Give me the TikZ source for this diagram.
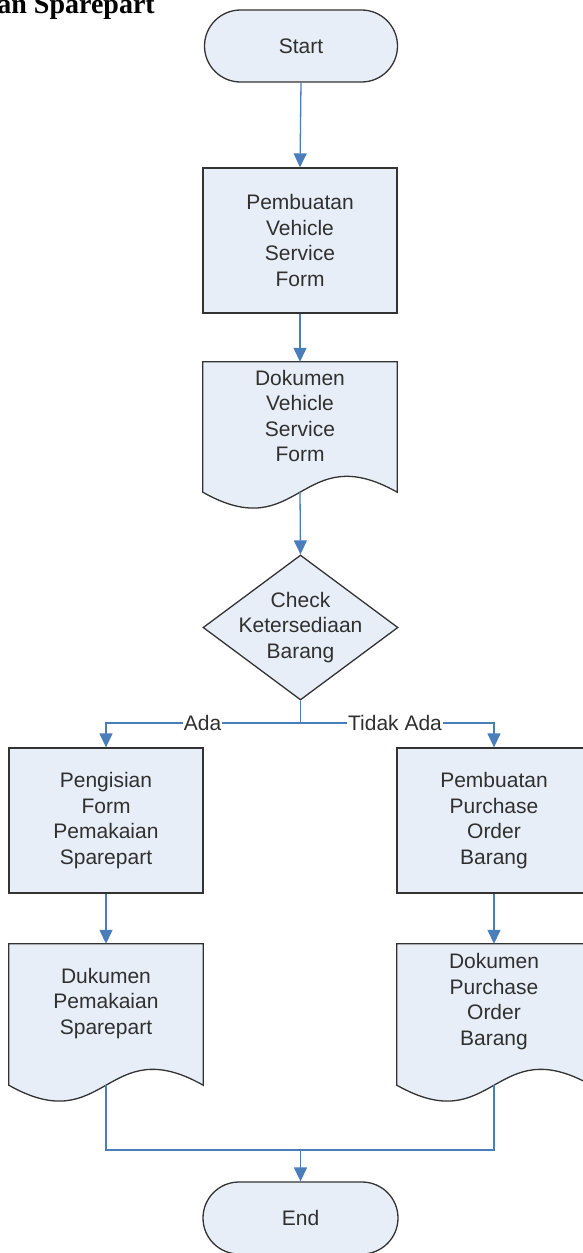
\documentclass[tikz,border=0pt]{standalone}
\usepackage{fontspec}
\setmainfont{Liberation Sans}
\newfontfamily\titlefont{Liberation Serif}
\usetikzlibrary{arrows.meta,shapes.geometric,calc}
\definecolor{fillc}{HTML}{E8EEF8}
\definecolor{linec}{HTML}{4A7EBB}
\definecolor{edgec}{HTML}{333333}
\definecolor{txtc}{HTML}{303030}
\begin{document}
\begin{tikzpicture}[x=1pt,y=-1pt,
  base/.style={inner sep=0pt, font=\fontsize{21}{25.5}\selectfont, text=txtc, align=center},
  term/.style={base, draw=edgec, line width=1.3pt, fill=fillc, rounded corners=36pt,
    minimum width=193pt, minimum height=72pt},
  proc/.style={base, draw=edgec, line width=1.3pt, fill=fillc,
    minimum width=194pt, minimum height=145pt},
  decbox/.style={diamond, draw=edgec, line width=1.3pt, fill=fillc, inner sep=0pt,
    minimum width=195pt, minimum height=145pt},
  docbox/.style={inner sep=0pt, minimum width=194pt},
  docline/.style={draw=edgec, line width=1.3pt, fill=fillc},
  conn/.style={draw=linec, line width=1.3pt},
  arr/.style={conn, -{Triangle[length=14pt,width=13pt]}},
  lab/.style={base, fill=white, inner xsep=1pt, inner ysep=2pt}
]
\useasboundingbox (0,0) rectangle (583,1253);

% title (cut off at the page edge)
\node[anchor=base east, inner sep=0pt, font=\titlefont\bfseries\fontsize{28}{30}\selectfont] (title) at (155,13.5) {an Sparepart};

% shapes
\node[term] (start) at (301,46) {Start};
\node[proc] (b1) at (300,240.5) {Pembuatan\\Vehicle\\Service\\Form};

\node[docbox, minimum height=130pt] (d1) at (300,427) {};
\draw[docline] (d1.south west) -- (d1.north west) -- (d1.north east) -- (d1.south east)
  .. controls ([yshift=55pt]d1.south) and ([yshift=-55pt]d1.south) .. (d1.south west) -- cycle;
\node[base] (d1t) at ([yshift=11pt]d1.center) {Dokumen\\Vehicle\\Service\\Form};

\node[decbox] (dia) at (300.5,627.5) {};
\node[base] (diat) at (dia.center) {Check\\Ketersediaan\\Barang};

\node[proc] (b2) at (106,820.5) {Pengisian\\Form\\Pemakaian\\Sparepart};
\node[proc] (b3) at (494,820.5) {Pembuatan\\Purchase\\Order\\Barang};

\node[docbox, minimum height=141pt] (d2) at (106,1014.5) {};
\draw[docline] (d2.south west) -- (d2.north west) -- (d2.north east) -- (d2.south east)
  .. controls ([yshift=55pt]d2.south) and ([yshift=-55pt]d2.south) .. (d2.south west) -- cycle;
\node[base] (d2t) at ([yshift=11pt]d2.center) {Dukumen\\Pemakaian\\Sparepart};

\node[docbox, minimum height=141pt] (d3) at (494,1014.5) {};
\draw[docline] (d3.south west) -- (d3.north west) -- (d3.north east) -- (d3.south east)
  .. controls ([yshift=55pt]d3.south) and ([yshift=-55pt]d3.south) .. (d3.south west) -- cycle;
\node[base] (d3t) at ([yshift=13pt]d3.center) {Dokumen\\Purchase\\Order\\Barang};

\node[term, minimum width=195pt] (end) at (300.5,1218) {End};

% connectors
\draw[arr] (start.south) -- (b1.north);
\draw[arr] (b1.south) -- (d1.north);
\draw[arr] (d1.south) -- (dia.north);
\coordinate (br) at (300.5,723);
\draw[conn] (dia.south) -- (br);
\draw[arr] (br) -| (b2.north);
\draw[arr] (br) -| (b3.north);
\node[lab] (ada) at (202.5,723) {Ada};
\node[lab] (tidak) at (395,723) {Tidak Ada};
\draw[arr] (b2.south) -- (d2.north);
\draw[arr] (b3.south) -- (d3.north);
\coordinate (m) at (300.5,1150);
\draw[conn] (d2.south) |- (m) -| (d3.south);
\draw[arr] (m) -- (end.north);
\end{tikzpicture}
\end{document}
